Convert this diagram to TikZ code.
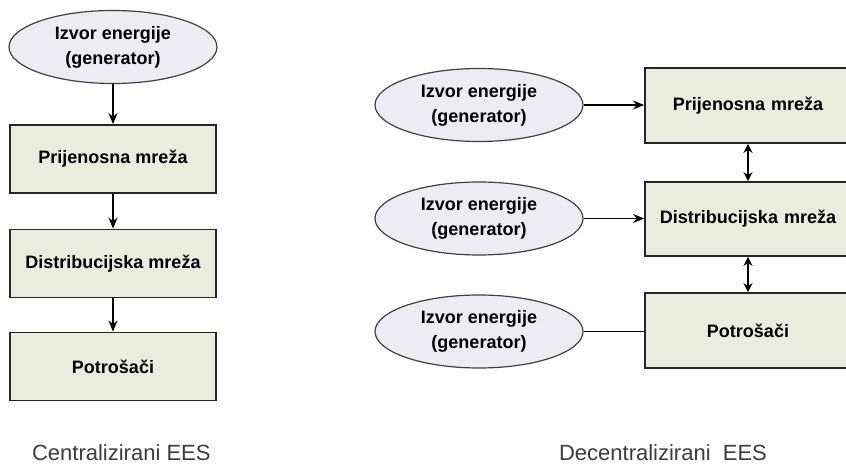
\documentclass[tikz,border=0pt]{standalone}
\usepackage{fontspec}
\setmainfont{Liberation Sans}
\usetikzlibrary{arrows.meta,shapes.geometric}
\definecolor{boxfill}{RGB}{234,237,222}
\definecolor{ellfill}{RGB}{237,236,243}
\definecolor{capgray}{RGB}{60,60,60}

\begin{document}
\begin{tikzpicture}[x=0.5pt,y=-0.5pt,
  mrezabox/.style={draw=black!85,line width=0.9pt,fill=boxfill,minimum width=103pt,
    minimum height=34pt,inner sep=0pt,font=\fontsize{9}{11}\selectfont\bfseries},
  % wider box on the right, cut off by the page edge
  mrezaboxD/.style={mrezabox,minimum width=108pt,minimum height=37.5pt,text width=103pt,
    align=center,xshift=2.5pt},
  izvor/.style={ellipse,draw=black!75,line width=0.6pt,fill=ellfill,minimum width=104pt,
    minimum height=36.5pt,inner sep=0pt,align=center,font=\fontsize{9}{12.5}\selectfont\bfseries},
  tok/.style={-{Stealth[length=5.5pt,width=4.5pt]},line width=0.7pt},
  dvotok/.style={{Stealth[length=4.5pt,width=4.5pt]}-{Stealth[length=4.5pt,width=4.5pt]},line width=0.7pt},
  natpis/.style={anchor=base west,text=capgray,font=\fontsize{11}{13}\selectfont}]

\useasboundingbox (0,0) rectangle (846,464);

% centralizirani EES
\node[izvor] (gen) at (113,47) {Izvor energije\\(generator)};
\node[mrezabox] (prijenos) at (113,159) {Prijenosna mreža};
\node[mrezabox] (distrib) at (113,263.5) {Distribucijska mreža};
\node[mrezabox] (potr) at (113,366.5) {Potrošači};

\draw[tok] (gen) -- (prijenos);
\draw[tok] (prijenos) -- (distrib);
\draw[tok] (distrib) -- (potr);

\node[natpis] (cent) at (25,460) {Centralizirani EES};

% decentralizirani EES
\node[izvor] (genA) at (479,105) {Izvor energije\\(generator)};
\node[izvor] (genB) at (479,218.5) {Izvor energije\\(generator)};
\node[izvor] (genC) at (479,331.5) {Izvor energije\\(generator)};

\node[mrezaboxD] (prijenosD) at (748,105.5) {\hspace*{-5pt}Prijenosna mreža};
\node[mrezaboxD,minimum height=37pt] (distribD) at (748,219) {\hspace*{-5pt}Distribucijska mreža};
\node[mrezaboxD] (potrD) at (748,330.5) {\hspace*{-5pt}Potrošači};

\draw[tok] (genA) -- (genA -| prijenosD.west);
\draw[tok] (genB) -- (genB -| distribD.west);
\draw[line width=0.7pt] (genC) -- (genC -| potrD.west);
\draw[dvotok] ([xshift=-2.5pt]prijenosD.south) -- ([xshift=-2.5pt]distribD.north);
\draw[dvotok] ([xshift=-2.5pt]distribD.south) -- ([xshift=-2.5pt]potrD.north);

\node[natpis] (decent) at (552,460) {Decentralizirani\ \ EES};

\end{tikzpicture}
\end{document}
